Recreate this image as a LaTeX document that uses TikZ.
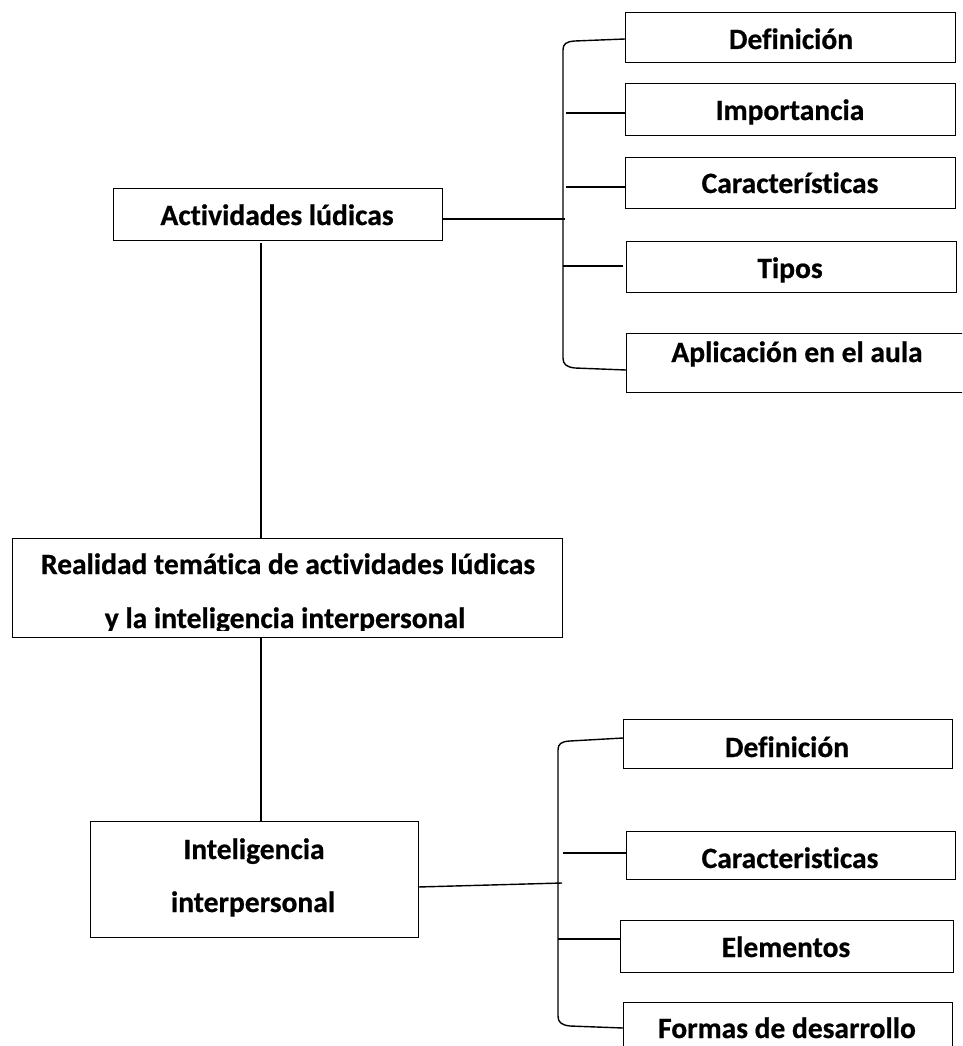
\documentclass[tikz,border=0pt]{standalone}
\usepackage{fontspec}
\setmainfont{Carlito}[Ligatures=NoCommon, BoldFeatures={FakeBold=0.6}]
\usetikzlibrary{calc}
\newcommand\lblfont{\bfseries\fontsize{29.5}{51}\selectfont}
\tikzset{
  box/.style={draw, line width=1.1pt, inner sep=0pt, anchor=north west, fill=white},
  lbl/.style={font=\lblfont, anchor=base, inner sep=0pt},
  con/.style={line width=1.4pt},
}
\begin{document}
\begin{tikzpicture}[x=1pt,y=-1pt]
\path[use as bounding box, fill=white] (0,0) rectangle (962,1046);
\clip (0,0) rectangle (962,1046);
% boxes
\node[box, minimum width=329, minimum height=52] (act) at (113,188) {};
\node[box, minimum width=330, minimum height=50] (def1) at (625,12) {};
\node[box, minimum width=330, minimum height=52] (imp) at (625,83) {};
\node[box, minimum width=330, minimum height=51] (car1) at (625,157) {};
\node[box, minimum width=330, minimum height=51] (tip) at (626,241) {};
\node[box, minimum width=343, minimum height=59] (apl) at (626,333) {};
\node[box, minimum width=550, minimum height=99] (real) at (12,538) {};
\node[box, minimum width=328, minimum height=116] (intel) at (90,821) {};
\node[box, minimum width=329, minimum height=49] (def2) at (623,719) {};
\node[box, minimum width=329, minimum height=48] (car2) at (626,831) {};
\node[box, minimum width=333, minimum height=52] (ele) at (620,920) {};
\node[box, minimum width=329, minimum height=60] (for) at (623,1002) {};
% labels
\node[lbl] (actt) at (277,225) {Actividades lúdicas};
\node[lbl] (def1t) at (791,49) {Definición};
\node[lbl] (impt) at (790,120) {Importancia};
\node[lbl] (car1t) at (790,193) {Características};
\node[lbl] (tipt) at (790,278) {Tipos};
\node[lbl] (aplt) at (797,362) {Aplicación en el aula};
\node[lbl] (real1t) at (288,574) {Realidad temática de actividades lúdicas};
\begin{scope}
\clip (12,590) rectangle (562,630);
\node[lbl] (real2t) at (285,628) {y la inteligencia interpersonal};
\end{scope}
\node[lbl] (int1t) at (254,859) {Inteligencia};
\node[lbl] (int2t) at (253,912) {interpersonal};
\node[lbl] (def2t) at (787,757) {Definición};
\node[lbl] (car2t) at (790,868) {Caracteristicas};
\node[lbl] (elet) at (786,957) {Elementos};
\node[lbl] (fort) at (787,1038) {Formas de desarrollo};
% vertical connectors
\coordinate (v1) at (261,243);
\draw[con] (v1) -- (v1 |- real.north);
\coordinate (v2) at (261,637);
\draw[con] (v2) -- (v2 |- intel.north);
% top group
\coordinate (m1) at (565,219);
\draw[con] (m1 -| act.east) -- (m1);
\coordinate (t1) at (625,39);
\coordinate (t2) at (626,370);
\draw[con] (t1 -| def1.west) -- (575,41) .. controls (566,41.5) and (563,44) .. (563,50)
  -- (563,358) .. controls (563,364) and (566,367) .. (575,368) -- (t2 -| apl.west);
\coordinate (b2) at (566,113);
\draw[con] (b2) -- (b2 -| imp.west);
\coordinate (b3) at (566,187);
\draw[con] (b3) -- (b3 -| car1.west);
\coordinate (b4) at (563,266);
\coordinate (b4e) at (623,266);
\draw[con] (b4) -- (b4e);
% bottom group
\coordinate (m2a) at (418,887);
\coordinate (m2) at (562,883);
\draw[con] (m2a) -- (m2);
\coordinate (s1) at (623,738);
\coordinate (s2) at (623,1028);
\draw[con] (s1 -| def2.west) -- (570,741) .. controls (561,741.5) and (558,744) .. (558,750)
  -- (558,1016) .. controls (558,1022) and (561,1025) .. (570,1026) -- (s2 -| for.west);
\coordinate (c2) at (563,853);
\draw[con] (c2) -- (c2 -| car2.west);
\coordinate (c3) at (558,939);
\draw[con] (c3) -- (c3 -| ele.west);
\end{tikzpicture}
\end{document}
